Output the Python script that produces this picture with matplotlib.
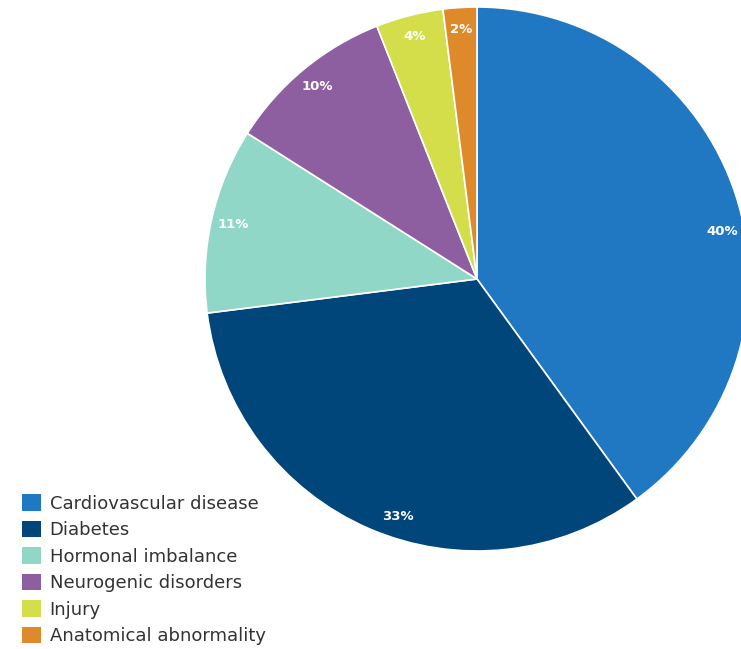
import matplotlib
matplotlib.use("Agg")
import matplotlib.pyplot as plt
from matplotlib.patches import Patch
import numpy as np

categories = ["Cardiovascular disease", "Diabetes", "Hormonal imbalance",
              "Neurogenic disorders", "Injury", "Anatomical abnormality"]
shares = [40, 33, 11, 10, 4, 2]
colors = ["#1f78c1", "#00467a", "#91d7c8", "#8e5fa0", "#d3de4a", "#df8a2a"]

W, H = 741, 649
fig = plt.figure(figsize=(W / 100, H / 100), dpi=100)
ax = fig.add_axes([0, 0, 1, 1])

cx, cy, R = 477, 370, 272
wedges, _ = ax.pie(shares, colors=colors, startangle=90, counterclock=False,
                   center=(cx, cy), radius=R,
                   wedgeprops=dict(edgecolor="white", linewidth=1.2))
ax.set_xlim(0, W)
ax.set_ylim(0, H)
ax.set_aspect("equal")
ax.axis("off")

# percentage labels near the rim; the two large slices get a slight shift
label_r = 0.92
shift = {0: -7, 1: 5}
for i, (w, v) in enumerate(zip(wedges, shares)):
    ang = np.deg2rad((w.theta1 + w.theta2) / 2 + shift.get(i, 0))
    x = cx + R * label_r * np.cos(ang)
    y = cy + R * label_r * np.sin(ang)
    ax.text(x, y, f"{v}%", ha="center", va="center", color="white",
            fontsize=9.5, fontweight="bold", family="DejaVu Sans")

handles = [Patch(facecolor=c, edgecolor="none") for c in colors]
leg = ax.legend(handles, categories, loc="upper left",
                bbox_to_anchor=(5.5 / W, 1 - 478 / H), bbox_transform=fig.transFigure,
                frameon=False, fontsize=13, handlelength=1.05, handleheight=1.05,
                labelspacing=0.44, handletextpad=0.5)
for t in leg.get_texts():
    t.set_color("#333333")

fig.savefig("out.png", dpi=100)
